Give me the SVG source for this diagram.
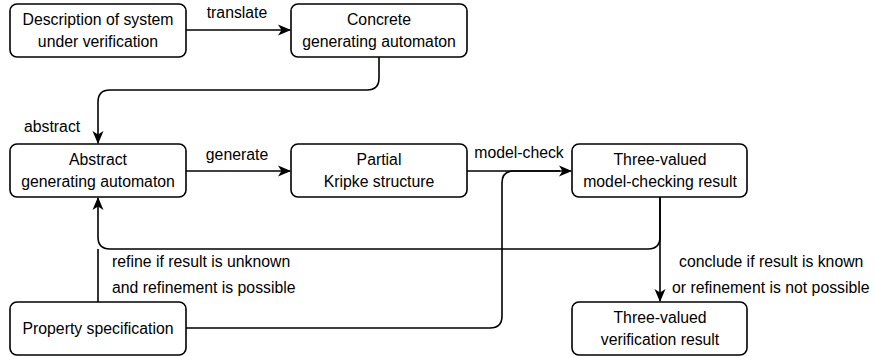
<svg xmlns="http://www.w3.org/2000/svg" width="875" height="356" viewBox="0 0 875 356">
<defs>
<marker id="ah" viewBox="0 0 13 13" refX="12" refY="6.5" markerWidth="13" markerHeight="13" markerUnits="userSpaceOnUse" orient="auto">
<path d="M0,1 L13,6.5 L0,12 L3.5,6.5 Z" fill="#000"/>
</marker>
<style>
.box{fill:#fff;stroke:#000;stroke-width:1.6}
.t{font-family:"Liberation Sans",Arial,sans-serif;font-size:15.8px;fill:#000;text-anchor:middle}
.l{font-family:"Liberation Sans",Arial,sans-serif;font-size:15.8px;fill:#000}
.c{fill:none;stroke:#000;stroke-width:1.6}
</style>
</defs>
<g id="connectors">
<path class="c" d="M186,30 H290" marker-end="url(#ah)"/>
<path class="c" d="M379,57 V78 Q379,90 367,90 H110 Q98,90 98,102 V143" marker-end="url(#ah)"/>
<path class="c" d="M186,171 H290" marker-end="url(#ah)"/>
<path class="c" d="M467,171 H571" marker-end="url(#ah)"/>
<path class="c" d="M186,328 H490 Q502,328 502,316 V183 Q502,171 514,171 H560"/>
<path class="c" d="M660,197 V237 Q660,249 648,249 H110 Q98,249 98,237 V198" marker-end="url(#ah)"/>
<path class="c" d="M98,302 V249"/>
<path class="c" d="M660,197 V301" marker-end="url(#ah)"/>
<text class="t" x="237" y="18">translate</text>
<text class="l" x="24" y="132">abstract</text>
<text class="t" x="237" y="160">generate</text>
<text class="t" x="519" y="158">model-check</text>
<text class="l" x="112" y="267">refine if result is unknown</text>
<text class="l" x="112" y="293">and refinement is possible</text>
<text class="l" x="679" y="267">conclude if result is known</text>
<text class="l" x="672" y="293">or refinement is not possible</text>
</g>
<g id="desc">
<rect class="box" x="10" y="4" width="176" height="53" rx="7"/>
<text class="t" x="98" y="25">Description of system</text>
<text class="t" x="98" y="47">under verification</text>
</g>
<g id="concrete">
<rect class="box" x="291" y="4" width="176" height="53" rx="7"/>
<text class="t" x="379" y="25">Concrete</text>
<text class="t" x="379" y="47">generating automaton</text>
</g>
<g id="abstract">
<rect class="box" x="10" y="144" width="176" height="53" rx="7"/>
<text class="t" x="98" y="165">Abstract</text>
<text class="t" x="98" y="187">generating automaton</text>
</g>
<g id="partial">
<rect class="box" x="291" y="144" width="176" height="53" rx="7"/>
<text class="t" x="379" y="165">Partial</text>
<text class="t" x="379" y="187">Kripke structure</text>
</g>
<g id="mcresult">
<rect class="box" x="572" y="144" width="175" height="53" rx="7"/>
<text class="t" x="660" y="165">Three-valued</text>
<text class="t" x="660" y="187">model-checking result</text>
</g>
<g id="property">
<rect class="box" x="10" y="302" width="176" height="53" rx="7"/>
<text class="t" x="98" y="334">Property specification</text>
</g>
<g id="verresult">
<rect class="box" x="572" y="302" width="175" height="53" rx="7"/>
<text class="t" x="660" y="323">Three-valued</text>
<text class="t" x="660" y="345">verification result</text>
</g>
</svg>
